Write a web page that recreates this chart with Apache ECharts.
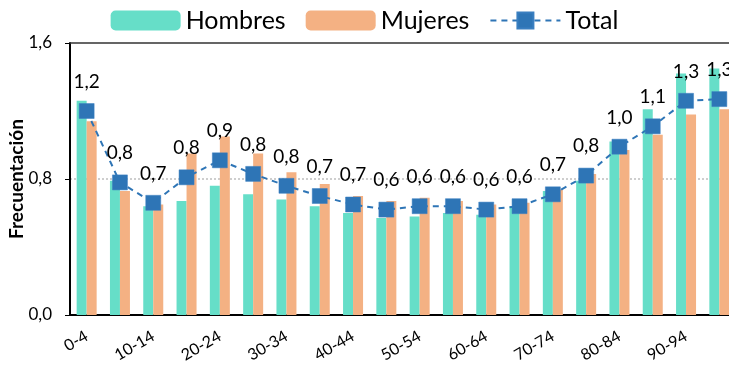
<!DOCTYPE html>
<html>
<head>
<meta charset="utf-8">
<script src="https://cdn.jsdelivr.net/npm/echarts@6/dist/echarts.min.js"></script>
<style>
  html, body { margin: 0; padding: 0; background: #fff; }
  #chart { width: 729px; height: 365px; }
</style>
</head>
<body>
<div id="chart"></div>
<script>
// Grupos de edad (quinquenales)
const categories = ['0-4', '5-9', '10-14', '15-19', '20-24', '25-29', '30-34', '35-39',
  '40-44', '45-49', '50-54', '55-59', '60-64', '65-69', '70-74', '75-79',
  '80-84', '85-89', '90-94', '95-99'];

// Frecuentación por sexo
const hombres = [1.26, 0.79, 0.64, 0.67, 0.76, 0.71, 0.68, 0.64,
  0.60, 0.57, 0.58, 0.60, 0.59, 0.64, 0.73, 0.79,
  1.02, 1.21, 1.42, 1.45];
const mujeres = [1.14, 0.73, 0.65, 0.95, 1.05, 0.95, 0.84, 0.77,
  0.70, 0.67, 0.69, 0.67, 0.65, 0.66, 0.74, 0.83,
  0.97, 1.06, 1.18, 1.21];
const total = [1.20, 0.78, 0.66, 0.81, 0.91, 0.83, 0.76, 0.70,
  0.65, 0.62, 0.64, 0.64, 0.62, 0.64, 0.71, 0.82,
  0.99, 1.11, 1.26, 1.27];

// Marcas del eje vertical
const yTicks = [0, 0.8, 1.6];

const fontFamily = 'Lato, "Open Sans", sans-serif';
const fmt = v => v.toFixed(1).replace('.', ',');

const chart = echarts.init(document.getElementById('chart'), null, { renderer: 'canvas' });

chart.setOption({
  animation: false,
  textStyle: { fontFamily: fontFamily, color: '#000' },
  legend: {
    top: 3,
    left: 'center',
    itemWidth: 70,
    itemHeight: 20,
    itemGap: 20,
    textStyle: { fontSize: 25, color: '#000', fontFamily: fontFamily },
    data: ['Hombres', 'Mujeres', 'Total']
  },
  grid: {
    left: 70,
    right: -7,
    top: 43,
    bottom: 50,
    outerBoundsMode: 'none',
    containLabel: false
  },
  xAxis: [
    {
      type: 'category',
      data: categories,
      axisLine: { lineStyle: { color: '#000', width: 2 } },
      axisTick: { show: false },
      axisLabel: {
        interval: 1,
        rotate: 30,
        fontSize: 16,
        color: '#000',
        margin: 20,
        fontFamily: fontFamily
      }
    },
    {
      // upper frame line of the plot area
      type: 'category',
      data: categories,
      position: 'top',
      axisLine: { show: true, lineStyle: { color: '#333', width: 1.5 } },
      axisTick: { show: false },
      axisLabel: { show: false },
      splitLine: { show: false }
    }
  ],
  yAxis: {
    type: 'value',
    min: yTicks[0],
    max: yTicks[yTicks.length - 1],
    interval: yTicks[1] - yTicks[0],
    name: 'Frecuentación',
    nameLocation: 'middle',
    nameGap: 44,
    nameMoveOverlap: false,
    nameTextStyle: { fontSize: 19, fontWeight: 'bold', color: '#000', fontFamily: fontFamily },
    axisLine: { show: true, lineStyle: { color: '#000', width: 2 } },
    axisTick: { show: true, length: 5, lineStyle: { color: '#000' } },
    axisLabel: {
      fontSize: 17,
      color: '#000',
      margin: 18,
      formatter: v => fmt(v)
    },
    splitLine: {
      show: true,
      // only the middle reference line is drawn
      lineStyle: {
        color: ['rgba(0,0,0,0)', '#bfbfbf', 'rgba(0,0,0,0)'],
        type: [2, 2],
        width: 1.5
      }
    }
  },
  series: [
    {
      name: 'Hombres',
      type: 'bar',
      data: hombres,
      barWidth: 10,
      barGap: '0%',
      itemStyle: { color: '#66DEC8' }
    },
    {
      name: 'Mujeres',
      type: 'bar',
      data: mujeres,
      barWidth: 10,
      barGap: '0%',
      itemStyle: { color: '#F4B183' }
    },
    {
      name: 'Total',
      type: 'line',
      data: total,
      symbol: 'rect',
      symbolSize: 15,
      z: 5,
      lineStyle: { color: '#2E75B6', width: 2, type: [6, 5] },
      itemStyle: { color: '#2E75B6', borderColor: '#3A7FC0', borderWidth: 0.5 },
      label: {
        show: true,
        position: 'top',
        distance: 12,
        fontSize: 19,
        color: '#000',
        fontFamily: fontFamily,
        formatter: p => fmt(p.value)
      }
    }
  ]
});
</script>
</body>
</html>
